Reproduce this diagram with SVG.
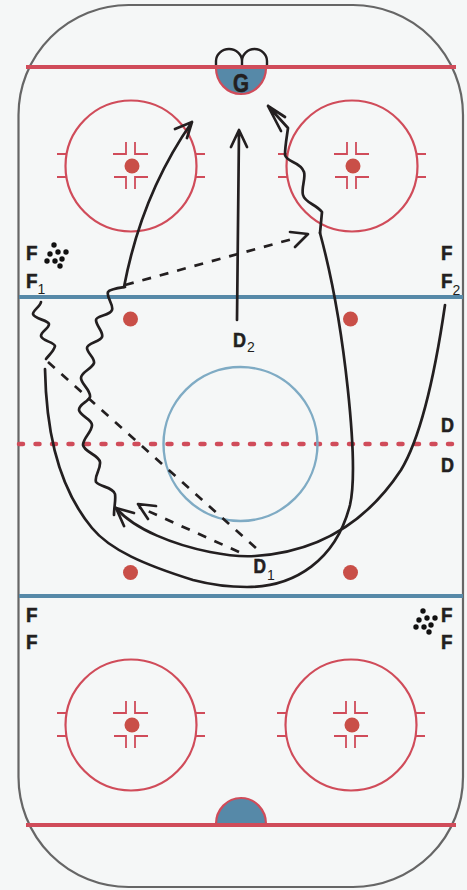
<svg xmlns="http://www.w3.org/2000/svg" width="467" height="890" viewBox="0 0 467 890">
<style>
.r{fill:none;stroke:#d04c5a;stroke-width:2.2}
.rt{fill:none;stroke:#d04c5a;stroke-width:1.8}
.dot{fill:#c94f48}
.b{fill:none;stroke:#5689a8;stroke-width:4}
.k{fill:none;stroke:#231f20;stroke-width:2.700;stroke-linecap:round;stroke-linejoin:round}
.d{stroke-dasharray:9 9;stroke-linecap:butt}
.t{font:bold 21px "Liberation Sans","DejaVu Sans",sans-serif;fill:#231f20;stroke:#231f20;stroke-width:.6}
.s{font:14px "Liberation Sans","DejaVu Sans",sans-serif;fill:#231f20}
.p{fill:#111}
</style>
<defs>
<g id="fo">
<circle class="r" cx="0" cy="0" r="65.500"/>
<circle class="dot" cx="1" cy="0" r="7.500"/>
<path class="rt" d="M-74-12H-65M-74 11H-65M65-12H74M65 11H74"/>
<path class="rt" d="M-18-12H-5V-24M17-12H4V-24M-17 11H-5V23M17 11H4V23"/>
</g>
<g id="pk">
<circle cx="7" cy="0" r="2.700"/><circle cx="3" cy="9" r="2.700"/><circle cx="11" cy="7" r="2.700"/><circle cx="19" cy="7" r="2.700"/>
<circle cx="0" cy="16" r="2.700"/><circle cx="8" cy="16" r="2.700"/><circle cx="15" cy="14" r="2.700"/><circle cx="13" cy="21" r="2.700"/>
</g>
</defs>
<rect width="467" height="890" fill="#f5f7f7"/>
<rect id="rink" x="18.500" y="5" width="444.500" height="882" rx="110" ry="110" fill="none" stroke="#666" stroke-width="2.200"/>
<g id="lines">
<path d="M26 67H456M26 825H456" fill="none" stroke="#d04c5a" stroke-width="4"/>
<path class="b" d="M19 297H463M19 596H463"/>
<path d="M19 444H463" fill="none" stroke="#d04c5a" stroke-width="4.500" stroke-linecap="round" stroke-dasharray="4 12.500"/>
<circle cx="240.500" cy="444" r="77" fill="none" stroke="#7fabc4" stroke-width="2.400"/>
<path d="M216 69H266A25 25 0 0 1 216 69Z" fill="#5689a8"/>
<path d="M216 68A25 26 0 0 0 266 68" class="r"/>
<path d="M216 824A25 26 0 0 1 266 824Z" fill="#5689a8" stroke="#d04c5a" stroke-width="2.200"/>
<path d="M216 65V61A13 12 0 0 1 242 61V65M242 61A12.500 12 0 0 1 267 61V65" fill="none" stroke="#231f20" stroke-width="2.400"/>
</g>
<g id="faceoffs">
<use href="#fo" x="131" y="166"/>
<use href="#fo" x="352" y="166"/>
<use href="#fo" x="131" y="725"/>
<use href="#fo" x="351" y="725"/>
<circle class="dot" cx="130.500" cy="319" r="7.500"/>
<circle class="dot" cx="350.500" cy="319" r="7.500"/>
<circle class="dot" cx="130.500" cy="572.500" r="7.500"/>
<circle class="dot" cx="350.500" cy="572.500" r="7.500"/>
</g>
<g id="connectors">
<path class="k" d="M124 287C132 245 150 182 192 122M175 129L192 122L187 138"/>
<path class="k" d="M125 287C118 288 110 289 108 292C106 297 114 305 112 310C110 316 96 315 96 320C96 326 104 332 102 337C100 342 87 343 87 348C87 353 95 358 94 363C92 369 81 372 81 378C81 384 91 390 90 397C88 402 79 404 79 410C80 416 92 419 92 425C92 432 83 438 83 445C84 452 99 455 100 462C101 469 94 476 96 482C100 487 113 487 115 494C116 500 114 507 114 515"/>
<path class="k" d="M134 513L116 508L124 526"/>
<path class="k" d="M116 508C135 530 175 545 210 552C225 555 240 557 255 556C320 552 368 520 401 470C424 432 437 360 445 305"/>
<path class="k" d="M45 369C46 420 54 482 92 528C110 550 145 565 193 580C212 585 230 587 247 587C295 587 336 560 350 505C359 465 345 325 320 233"/>
<path class="k" d="M320 233L322 212C316 204 305 203 303 195C301 188 306 178 304 172C300 161 287 163 285 155C285 146 287 136 288 128L268 106M268 106L285 117M268 106L281 131"/>
<path class="k" d="M237 320L239 131M231 147L239 130L247 147"/>
<path class="k d" d="M125 285L296 238"/>
<path class="k" d="M290 232L308 234L295 247"/>
<path class="k" d="M41 302C40 307 33 310 33 314C34 319 48 320 49 324C49 329 41 331 41 336C42 341 54 342 55 346C54 351 49 355 46 359"/>
<path class="k d" d="M48 362L257 549"/>
<path class="k d" d="M239 552L139 507"/>
<path class="k" d="M156 506L138 504L148 519"/>
</g>
<g id="players">
<text class="t" x="26" y="260" textLength="11.500" lengthAdjust="spacingAndGlyphs">F</text>
<text class="t" x="26" y="288" textLength="11.500" lengthAdjust="spacingAndGlyphs">F</text><text class="s" x="37.500" y="294">1</text>
<text class="t" x="441" y="260" textLength="11.500" lengthAdjust="spacingAndGlyphs">F</text>
<text class="t" x="441" y="288" textLength="11.500" lengthAdjust="spacingAndGlyphs">F</text><text class="s" x="452.500" y="295">2</text>
<text class="t" x="441" y="432" textLength="13" lengthAdjust="spacingAndGlyphs">D</text>
<text class="t" x="441" y="472" textLength="13" lengthAdjust="spacingAndGlyphs">D</text>
<text class="t" x="26" y="622" textLength="11.500" lengthAdjust="spacingAndGlyphs">F</text>
<text class="t" x="26" y="649" textLength="11.500" lengthAdjust="spacingAndGlyphs">F</text>
<text class="t" x="441" y="622" textLength="11.500" lengthAdjust="spacingAndGlyphs">F</text>
<text class="t" x="441" y="649" textLength="11.500" lengthAdjust="spacingAndGlyphs">F</text>
<text class="t" x="233" y="347" textLength="13" lengthAdjust="spacingAndGlyphs">D</text><text class="s" x="247" y="352">2</text>
<text class="t" x="253.500" y="573" textLength="12.500" lengthAdjust="spacingAndGlyphs">D</text><text class="s" x="267" y="580">1</text>
<text class="t" x="233" y="91.500" style="font-size:26px" textLength="16" lengthAdjust="spacingAndGlyphs">G</text>
<use href="#pk" class="p" x="47" y="245"/>
<use href="#pk" class="p" x="416" y="611"/>
</g>
</svg>
